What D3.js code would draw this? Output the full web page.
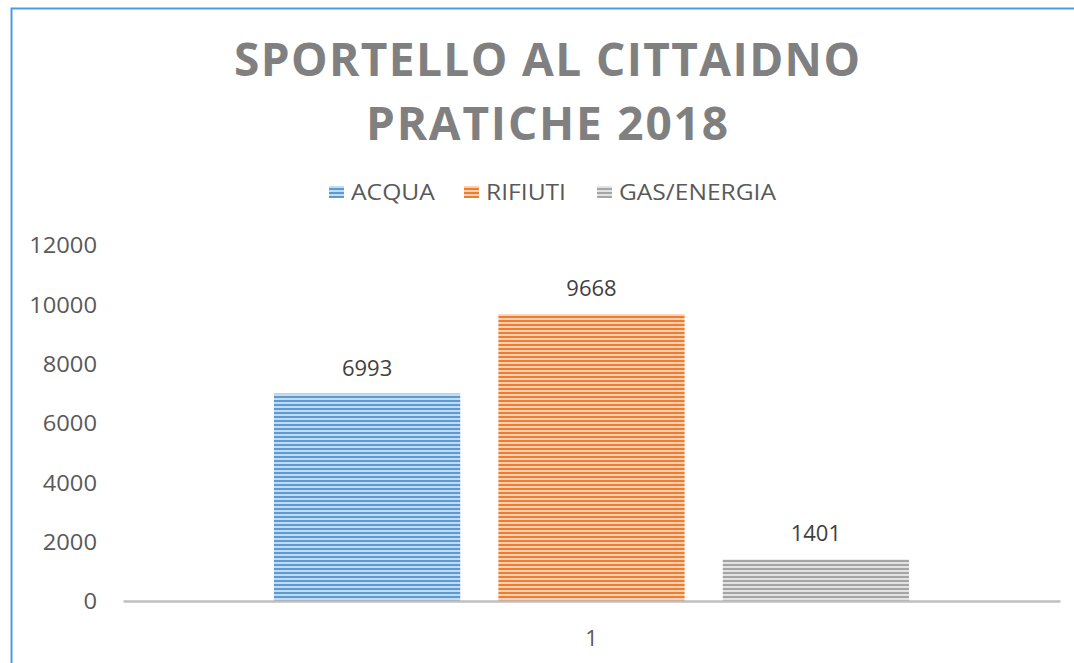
<!DOCTYPE html>
<html><head><meta charset="utf-8">
<script src="https://cdn.jsdelivr.net/npm/d3@7"></script>
<style>body{margin:0;background:#fff}svg{display:block}</style>
</head><body>
<script>
const titleLines = ["SPORTELLO AL CITTAIDNO", "PRATICHE 2018"];
const categories = ["1"];
const seriesNames = ["ACQUA", "RIFIUTI", "GAS/ENERGIA"];
const seriesValues = [6993, 9668, 1401];
const yTicks = [0, 2000, 4000, 6000, 8000, 10000, 12000];
const darkColors = ["#5b9bd5", "#ed7d31", "#a5a5a5"];
const lightColors = ["#c3dcf2", "#fbd0b3", "#e2e2e2"];

const W = 1074, H = 663;
const FONT = "Open Sans, sans-serif";
const svg = d3.select("body").append("svg").attr("width", W).attr("height", H);
const defs = svg.append("defs");
seriesNames.forEach((n, i) => {
  const p = defs.append("pattern").attr("id", "pat" + i).attr("patternUnits", "userSpaceOnUse")
    .attr("width", 8).attr("height", 4);
  p.append("rect").attr("width", 8).attr("height", 4).attr("fill", lightColors[i]);
  p.append("rect").attr("width", 8).attr("height", 2).attr("fill", darkColors[i]);
});

// border
svg.append("path").attr("d", `M11.5,${H} L11.5,8.5 L${W},8.5`).attr("fill", "none")
  .attr("stroke", "#4a9be0").attr("stroke-width", 2);

// title
const titleY = [76, 140];
const titleLen = [626, 362];
titleLines.forEach((t, i) => {
  svg.append("text").attr("x", 547).attr("y", titleY[i]).attr("text-anchor", "middle")
    .attr("font-family", FONT).attr("font-weight", "bold").attr("font-size", 46)
    .attr("fill", "#808080").attr("textLength", titleLen[i]).attr("lengthAdjust", "spacing").text(t);
});

// scales
const x0 = d3.scaleBand().domain(categories).range([123, 1060]);
const x1 = d3.scaleBand().domain(seriesNames).range([274, 909]).paddingInner(0.17);
const y = d3.scaleLinear().domain([0, 12000]).range([601, 245]);

// y axis labels
const yAxis = d3.axisLeft(y).tickValues(yTicks).tickSize(0).tickPadding(0).tickFormat(d3.format("d"));
const ya = svg.append("g").attr("transform", "translate(97,0)").call(yAxis);
ya.select(".domain").remove();
ya.selectAll("text").attr("font-family", FONT).attr("font-size", 22).attr("fill", "#595959")
  .attr("dy", "0.35em").attr("transform", "scale(1.08,1)").attr("x", 0)
  .each(function(){ d3.select(this).attr("transform", "scale(1.08,1)"); });
ya.selectAll(".tick text").attr("text-anchor", "end");

// bars
svg.append("g").selectAll("rect").data(seriesValues).join("rect")
  .attr("x", (d, i) => x1(seriesNames[i])).attr("width", x1.bandwidth())
  .attr("y", d => y(d)).attr("height", d => y(0) - y(d))
  .attr("fill", (d, i) => `url(#pat${i})`);

// value labels
svg.append("g").selectAll("text").data(seriesValues).join("text")
  .attr("x", (d, i) => x1(seriesNames[i]) + x1.bandwidth() / 2).attr("y", d => y(d) - 18)
  .attr("text-anchor", "middle").attr("font-family", FONT).attr("font-size", 22)
  .attr("fill", "#404040").text(d => d);

// x axis
const xAxis = d3.axisBottom(x0).tickSize(0).tickPadding(0);
const xa = svg.append("g").attr("transform", "translate(0,601)").call(xAxis);
xa.select(".domain").attr("stroke", "#bfbfbf").attr("stroke-width", 2.5);
xa.selectAll("text").attr("font-family", FONT).attr("font-size", 22).attr("fill", "#595959")
  .attr("y", 37).attr("dy", "0.35em");

// legend
const legX = [329, 464, 597];
const legW = [84, 80, 157];
const lg = svg.append("g");
seriesNames.forEach((n, i) => {
  lg.append("rect").attr("x", legX[i]).attr("y", 186).attr("width", 15).attr("height", 12)
    .attr("fill", `url(#pat${i})`);
  lg.append("text").attr("x", legX[i] + 22).attr("y", 192).attr("dy", "0.35em")
    .attr("font-family", FONT).attr("font-size", 22).attr("fill", "#595959")
    .attr("textLength", legW[i]).attr("lengthAdjust", "spacingAndGlyphs").text(n);
});
</script>
</body></html>
